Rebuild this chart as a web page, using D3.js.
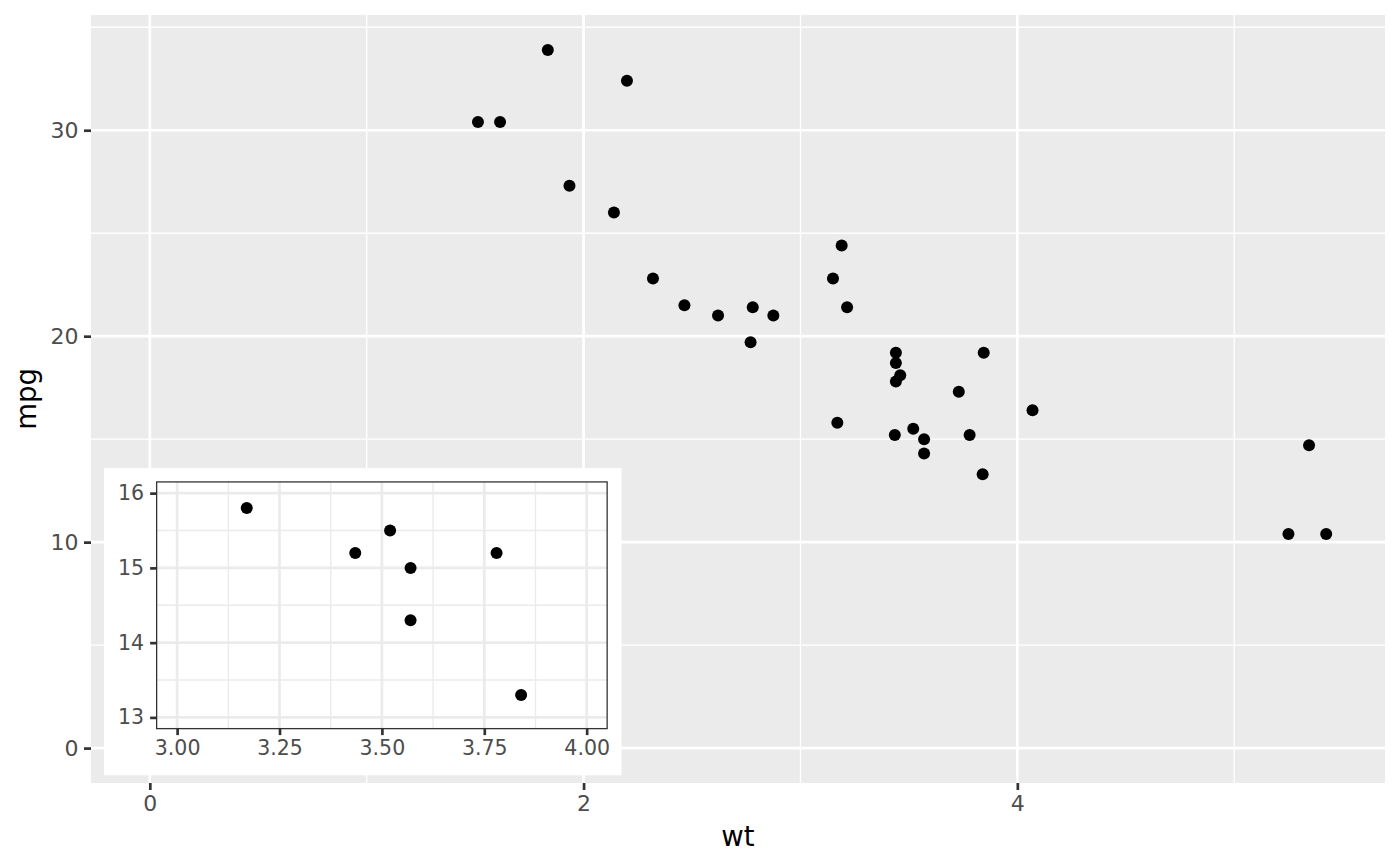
<!DOCTYPE html>
<html>
<head>
<meta charset="utf-8">
<script src="https://cdn.jsdelivr.net/npm/d3@7"></script>
<style>
  body { margin: 0; background: #fff; }
  text { font-family: "DejaVu Sans", sans-serif; }
</style>
</head>
<body>
<svg width="1400" height="866"></svg>
<script>
// mtcars: weight (1000 lbs) and miles per gallon
var wt = [2.620, 2.875, 2.320, 3.215, 3.440, 3.460, 3.570, 3.190, 3.150, 3.440,
          3.440, 4.070, 3.730, 3.780, 5.250, 5.424, 5.345, 2.200, 1.615, 1.835,
          2.465, 3.520, 3.435, 3.840, 3.845, 1.935, 2.140, 1.513, 3.170, 2.770,
          3.570, 2.780];
var mpg = [21.0, 21.0, 22.8, 21.4, 18.7, 18.1, 14.3, 24.4, 22.8, 19.2,
           17.8, 16.4, 17.3, 15.2, 10.4, 10.4, 14.7, 32.4, 30.4, 33.9,
           21.5, 15.5, 15.2, 13.3, 19.2, 27.3, 26.0, 30.4, 15.8, 19.7,
           15.0, 21.4];

var xTicks = [0, 2, 4];
var xMinor = [1, 3, 5];
var yTicks = [0, 10, 20, 30];
var yMinor = [5, 15, 25, 35];

var insetXLim = [3, 4];
var insetYLim = [13, 16];
var insetXTicks = [3, 3.25, 3.5, 3.75, 4];
var insetXMinor = [3.125, 3.375, 3.625, 3.875];
var insetYTicks = [13, 14, 15, 16];
var insetYMinor = [13.5, 14.5, 15.5];

var data = wt.map(function(d, i) { return {wt: d, mpg: mpg[i]}; });

var W = 1400, H = 866;
var margin = {top: 15, right: 15, bottom: 83, left: 91};
var width = W - margin.left - margin.right;
var height = H - margin.top - margin.bottom;

var svg = d3.select("svg");

function expand(lim, mult) {
    var r = lim[1] - lim[0];
    return [lim[0] - r * mult, lim[1] + r * mult];
}

// main scales (limits expanded to include 0)
var x = d3.scaleLinear()
    .domain(expand([0, d3.max(wt)], 0.05))
    .range([0, width]);
var y = d3.scaleLinear()
    .domain(expand([0, d3.max(mpg)], 0.05))
    .range([height, 0]);

var g = svg.append("g")
    .attr("transform", "translate(" + margin.left + "," + margin.top + ")");

g.append("rect")
    .attr("width", width).attr("height", height)
    .attr("fill", "#EBEBEB");

function grid(sel, xs, ys, xVals, yVals, w, h, col, lw) {
    sel.selectAll(null).data(xVals).enter().append("line")
        .attr("x1", function(d) { return xs(d); }).attr("x2", function(d) { return xs(d); })
        .attr("y1", 0).attr("y2", h)
        .attr("stroke", col).attr("stroke-width", lw);
    sel.selectAll(null).data(yVals).enter().append("line")
        .attr("y1", function(d) { return ys(d); }).attr("y2", function(d) { return ys(d); })
        .attr("x1", 0).attr("x2", w)
        .attr("stroke", col).attr("stroke-width", lw);
}

grid(g.append("g"), x, y, xMinor, yMinor, width, height, "#fff", 1.35);
grid(g.append("g"), x, y, xTicks, yTicks, width, height, "#fff", 2.7);

g.append("g").selectAll("circle")
    .data(data).enter().append("circle")
    .attr("cx", function(d) { return x(d.wt); })
    .attr("cy", function(d) { return y(d.mpg); })
    .attr("r", 6)
    .attr("fill", "#000");

function styleAxis(sel, fs) {
    sel.select(".domain").remove();
    sel.selectAll(".tick line").attr("stroke", "#333").attr("stroke-width", 2.7);
    sel.selectAll(".tick text")
        .attr("fill", "#4D4D4D")
        .style("font-size", fs + "px")
        .style("font-family", "'DejaVu Sans', sans-serif");
}

g.append("g")
    .attr("transform", "translate(0," + height + ")")
    .call(d3.axisBottom(x).tickValues(xTicks).tickSize(7).tickPadding(5.5)
        .tickFormat(d3.format("d")))
    .call(styleAxis, 22);

g.append("g")
    .call(d3.axisLeft(y).tickValues(yTicks).tickSize(7).tickPadding(5.5)
        .tickFormat(d3.format("d")))
    .call(styleAxis, 22);

svg.append("text")
    .attr("x", margin.left + width / 2)
    .attr("y", 846)
    .attr("text-anchor", "middle")
    .style("font-size", "27.5px")
    .attr("fill", "#000")
    .text("wt");

svg.append("text")
    .attr("transform", "translate(36," + (margin.top + height / 2) + ") rotate(-90)")
    .attr("text-anchor", "middle")
    .style("font-size", "27.5px")
    .attr("fill", "#000")
    .text("mpg");

// inset, placed in npc of the main panel
var inset = {left: 0.01, bottom: 0.01, right: 0.41, top: 0.41};
var bx0 = width * inset.left, bx1 = width * inset.right;
var by0 = height * (1 - inset.top), by1 = height * (1 - inset.bottom);

var ib = g.append("g").attr("transform", "translate(" + bx0 + "," + by0 + ")");
ib.append("rect")
    .attr("width", bx1 - bx0).attr("height", by1 - by0)
    .attr("fill", "#fff");

var im = {top: 13.8, right: 14.4, bottom: 46.7, left: 52.7};
var iw = (bx1 - bx0) - im.left - im.right;
var ih = (by1 - by0) - im.top - im.bottom;

var xi = d3.scaleLinear().domain(expand(insetXLim, 0.05)).range([0, iw]);
var yi = d3.scaleLinear().domain(expand(insetYLim, 0.05)).range([ih, 0]);

var ig = ib.append("g").attr("transform", "translate(" + im.left + "," + im.top + ")");
ig.append("clipPath").attr("id", "iclip")
    .append("rect").attr("width", iw).attr("height", ih);

var igc = ig.append("g").attr("clip-path", "url(#iclip)");
grid(igc.append("g"), xi, yi, insetXMinor, insetYMinor, iw, ih, "#EBEBEB", 1.35);
grid(igc.append("g"), xi, yi, insetXTicks, insetYTicks, iw, ih, "#EBEBEB", 2.7);

igc.append("g").selectAll("circle")
    .data(data.filter(function(d) {
        return d.wt >= insetXLim[0] && d.wt <= insetXLim[1] &&
               d.mpg >= insetYLim[0] && d.mpg <= insetYLim[1];
    }))
    .enter().append("circle")
    .attr("cx", function(d) { return xi(d.wt); })
    .attr("cy", function(d) { return yi(d.mpg); })
    .attr("r", 6)
    .attr("fill", "#000");

ig.append("rect")
    .attr("width", iw).attr("height", ih)
    .attr("fill", "none").attr("stroke", "#333").attr("stroke-width", 1.3);

ig.append("g")
    .attr("transform", "translate(0," + ih + ")")
    .call(d3.axisBottom(xi).tickValues(insetXTicks).tickSize(6.5).tickPadding(5.5)
        .tickFormat(d3.format(".2f")))
    .call(styleAxis, 20.5);

ig.append("g")
    .call(d3.axisLeft(yi).tickValues(insetYTicks).tickSize(6.5).tickPadding(6)
        .tickFormat(d3.format("d")))
    .call(styleAxis, 20.5);
</script>
</body>
</html>
